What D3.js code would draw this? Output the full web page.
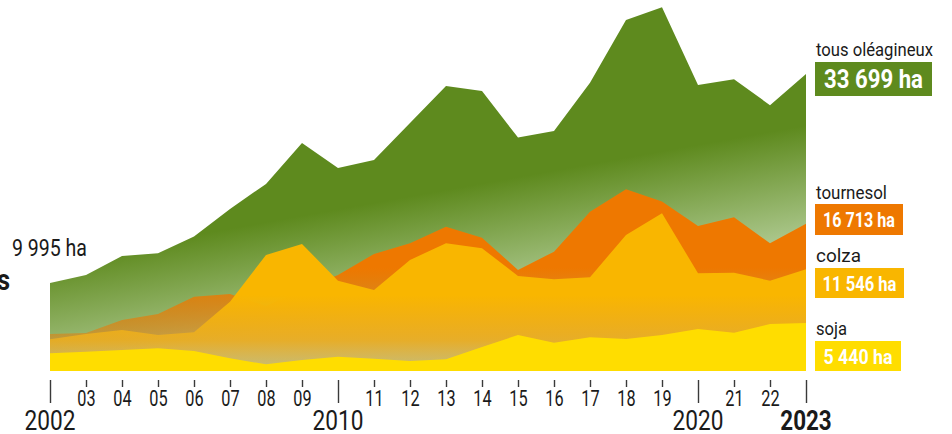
<!DOCTYPE html>
<html>
<head>
<meta charset="utf-8">
<script src="https://cdn.jsdelivr.net/npm/d3@7"></script>
<style>
  html, body { margin: 0; padding: 0; background: #fff; }
  svg { display: block; }
</style>
</head>
<body>
<div id="chart"></div>
<script>
// oilseed areas (ha)
const years = [2002, 2003, 2004, 2005, 2006, 2007, 2008, 2009, 2010, 2011, 2012,
  2013, 2014, 2015, 2016, 2017, 2018, 2019, 2020, 2021, 2022, 2023];
const total = [9995, 10900, 13050, 13360, 15250, 18390, 21230, 25880, 23040, 23950, 28150,
  32350, 31780, 26480, 27240, 32720, 39840, 41280, 32460, 33110, 30160, 33699];
const tournesol = [4200, 4300, 5790, 6470, 8430, 8740, 7380, 9190, 10900, 13280, 14490,
  16380, 15130, 11460, 13540, 18080, 20620, 19220, 16460, 17450, 14490, 16713];
const colza = [3600, 4200, 4650, 4090, 4390, 7870, 13170, 14420, 10250, 9190, 12600,
  14490, 13930, 10780, 10410, 10640, 15440, 17900, 11090, 11160, 10250, 11546];
const soja = [2010, 2190, 2380, 2580, 2270, 1440, 760, 1250, 1620, 1400, 1140,
  1330, 2720, 4090, 3210, 3830, 3630, 4090, 4770, 4350, 5340, 5440];

const seriesNames = ["tous oléagineux", "tournesol", "colza", "soja"];
const majorYears = [2002, 2010, 2020, 2023];

const W = 952, H = 434;
const font = "Roboto, 'DejaVu Sans', sans-serif";
const colors = {
  green: "#5E8A1E", greenLight: "#AAC68A",
  orange: "#EE7800", colza: "#F9B600", soja: "#FFDD00",
  text: "#1a1a1a", tick: "#3a3a3a"
};

const x = d3.scaleLinear().domain([2002, 2023]).range([50, 806]);
const y = d3.scaleLinear().domain([0, 33699]).range([371, 74]);

const svg = d3.select("#chart").append("svg")
  .attr("width", W).attr("height", H);

// narrow font look: squeeze a text horizontally around its anchor
function label(parent, tx, ty, str, size, weight, anchor, sx, fill) {
  return parent.append("text")
    .attr("transform", `translate(${tx},${ty}) scale(${sx},1)`)
    .attr("text-anchor", anchor)
    .style("font-family", font).style("font-size", `${size}px`)
    .style("font-weight", weight).attr("fill", fill || colors.text)
    .text(str);
}
// squeeze to a given width
function fitLabel(parent, tx, ty, str, size, weight, anchor, width, fill) {
  const t = label(parent, tx, ty, str, size, weight, anchor, 1, fill);
  const w = t.node().getComputedTextLength();
  t.attr("transform", `translate(${tx},${ty}) scale(${width / w},1)`);
  return t;
}

const defs = svg.append("defs");

// green fades toward the lower right
const gGreen = defs.append("linearGradient").attr("id", "gGreen")
  .attr("gradientUnits", "userSpaceOnUse")
  .attr("x1", 770).attr("y1", 132).attr("x2", 789).attr("y2", 238);
gGreen.append("stop").attr("offset", 0).attr("stop-color", colors.green);
gGreen.append("stop").attr("offset", 1).attr("stop-color", colors.greenLight);

const gOrange = defs.append("linearGradient").attr("id", "gOrange")
  .attr("gradientUnits", "userSpaceOnUse")
  .attr("x1", 0).attr("y1", 268).attr("x2", 0).attr("y2", 371);
gOrange.append("stop").attr("offset", 0).attr("stop-color", colors.orange).attr("stop-opacity", 1);
gOrange.append("stop").attr("offset", 0.65).attr("stop-color", colors.orange).attr("stop-opacity", 0.5);
gOrange.append("stop").attr("offset", 1).attr("stop-color", "#d9903a").attr("stop-opacity", 0.15);

const gColza = defs.append("linearGradient").attr("id", "gColza")
  .attr("gradientUnits", "userSpaceOnUse")
  .attr("x1", 0).attr("y1", 295).attr("x2", 0).attr("y2", 371);
gColza.append("stop").attr("offset", 0).attr("stop-color", colors.colza).attr("stop-opacity", 1);
gColza.append("stop").attr("offset", 0.6).attr("stop-color", "#EEB020").attr("stop-opacity", 0.8);
gColza.append("stop").attr("offset", 1).attr("stop-color", "#dcc070").attr("stop-opacity", 0.45);

const area = (vals) => d3.area()
  .x((d, i) => x(years[i]))
  .y0(y(0))
  .y1((d) => y(d))(vals);

svg.append("path").attr("d", area(total)).attr("fill", "url(#gGreen)");
svg.append("path").attr("d", area(tournesol)).attr("fill", "url(#gOrange)");
svg.append("path").attr("d", area(colza)).attr("fill", "url(#gColza)");
svg.append("path").attr("d", area(soja)).attr("fill", colors.soja);

// axis
const axis = d3.axisBottom(x).tickValues(years).tickSize(7).tickFormat(
  (d) => majorYears.includes(d) ? "" : String(d).slice(2));
const gx = svg.append("g").attr("transform", `translate(0,380)`).call(axis);
gx.select(".domain").remove();
gx.selectAll(".tick line")
  .attr("stroke", colors.tick).attr("stroke-width", 1.4)
  .attr("y2", (d) => majorYears.includes(d) ? 23 : 7);
gx.selectAll(".tick text")
  .attr("y", 0).attr("dy", 0)
  .attr("transform", "translate(0,26) scale(0.74,1)")
  .style("font-family", font).style("font-size", "22px").attr("fill", colors.text);

majorYears.forEach((d) => {
  label(svg, x(d), 430, d, 27, d === 2023 ? 700 : 400, "middle", d === 2023 ? 0.83 : 0.84);
});

// start value
const fmt = (v) => d3.format(",")(v).replace(/,/g, " ") + " ha";
fitLabel(svg, 12, 256, fmt(total[0]), 24, 400, "start", 75);

// cut title remnant on the far left
label(svg, -3, 290, "s", 30, 700, "start", 0.85);

// right labels
const legend = [
  { name: seriesNames[0], value: total[total.length - 1], color: colors.green, ly: 56, nw: 117, by: 62, bh: 34, bw: 117, fs: 26, vw: 99 },
  { name: seriesNames[1], value: tournesol[tournesol.length - 1], color: colors.orange, ly: 199, nw: 71, by: 204, bh: 31, bw: 88, fs: 21, vw: 72 },
  { name: seriesNames[2], value: colza[colza.length - 1], color: colors.colza, ly: 262, nw: 45, by: 268, bh: 30, bw: 89, fs: 21, vw: 74 },
  { name: seriesNames[3], value: soja[soja.length - 1], color: colors.soja, ly: 335, nw: 31, by: 341, bh: 30, bw: 86, fs: 21, vw: 69 }
];
const lg = svg.append("g").attr("class", "legend");
legend.forEach((l) => {
  fitLabel(lg, 816, l.ly, l.name, 19, 400, "start", l.nw);
  lg.append("rect").attr("x", 815).attr("y", l.by).attr("width", l.bw).attr("height", l.bh)
    .attr("fill", l.color);
  fitLabel(lg, 815 + l.bw / 2, l.by + l.bh / 2 + l.fs * 0.36, fmt(l.value), l.fs, 700, "middle", l.vw, "#fff");
});
</script>
</body>
</html>
